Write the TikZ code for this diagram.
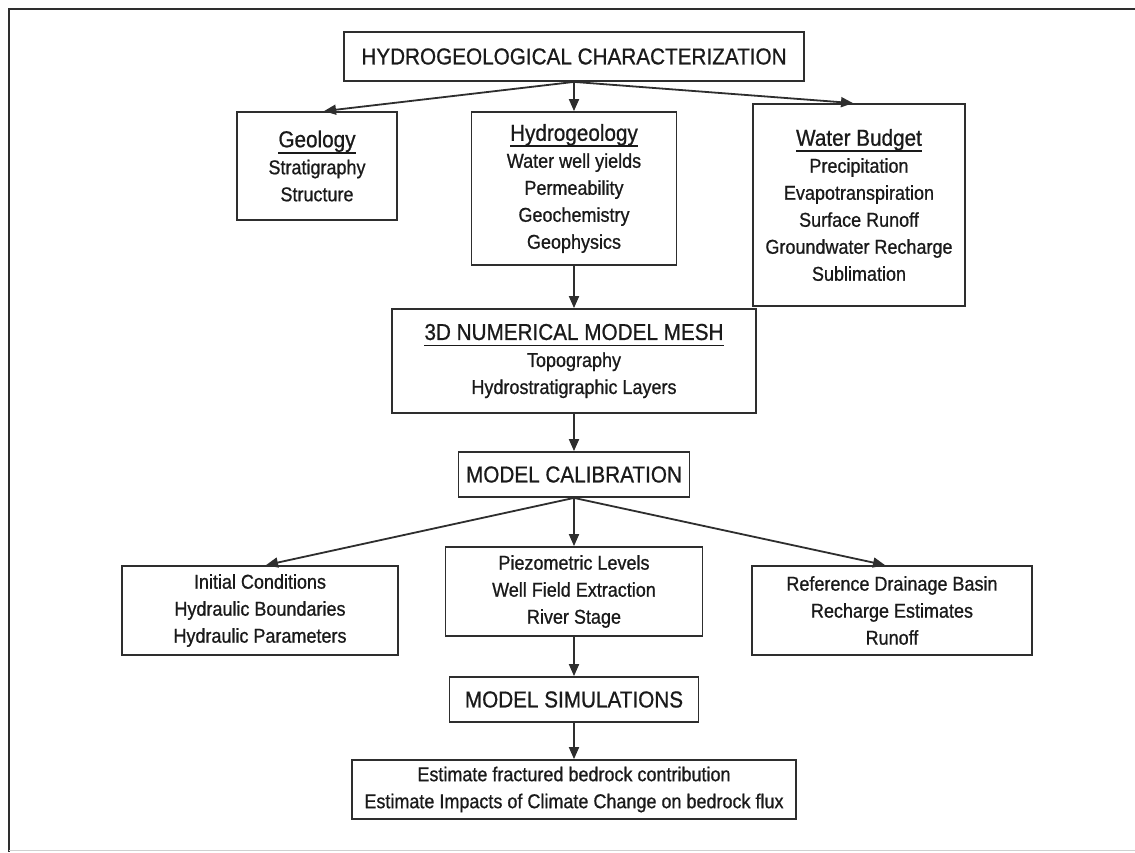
\documentclass[tikz,border=0pt]{standalone}
\usepackage{fontspec}
\setmainfont{Liberation Sans}[FakeStretch=0.9,FakeBold=0.8]
\usetikzlibrary{arrows.meta}
\definecolor{ink}{HTML}{2E2E2E}
\definecolor{txt}{HTML}{1A1A1A}
\definecolor{faint}{HTML}{D0D0D0}
\newsavebox{\myulbox}
\newcommand{\myul}[1]{\sbox{\myulbox}{#1}\rlap{\rule[-6.5pt]{\wd\myulbox}{1.8pt}}\usebox{\myulbox}}
\newcommand{\bodyfont}{\fontsize{20}{27}\selectfont}
\newcommand{\headfont}{\fontsize{23}{28}\selectfont}
\begin{document}
\begin{tikzpicture}[x=1pt,y=-1pt,
  box/.style={draw=ink,line width=1.8pt,align=center,inner sep=0pt,text=txt,font=\bodyfont},
  arr/.style={draw=ink,line width=1.8pt,-{Triangle[length=12pt,width=10pt]}}]
\useasboundingbox (0,0) rectangle (1135,852);
\fill[white] (0,0) rectangle (1135,852);
% frame
\draw[ink,line width=2pt] (1135,9) -- (9,9) -- (9,852);
\draw[faint,line width=1pt] (9,850) -- (1135,850);

% nodes
\node[box,minimum width=460pt,minimum height=49pt,font=\headfont] (title) at (574,56.5) {HYDROGEOLOGICAL CHARACTERIZATION};
\node[box,minimum width=160pt,minimum height=108pt] (geo) at (317,166) {\myul{\headfont Geology}\\Stratigraphy\\Structure};
\node[box,minimum width=205pt,minimum height=153pt] (hydro) at (574,188.5) {\myul{\headfont Hydrogeology}\\Water well yields\\Permeability\\Geochemistry\\Geophysics};
\node[box,minimum width=212pt,minimum height=202pt] (water) at (859,205) {\myul{\headfont Water Budget}\\Precipitation\\Evapotranspiration\\Surface Runoff\\Groundwater Recharge\\Sublimation};
\node[box,minimum width=364pt,minimum height=104pt] (mesh) at (574,361) {\myul{\headfont 3D NUMERICAL MODEL MESH}\\Topography\\Hydrostratigraphic Layers};
\node[box,minimum width=231pt,minimum height=45pt,font=\headfont] (calib) at (574,474.5) {MODEL CALIBRATION};
\node[box,minimum width=276pt,minimum height=89pt] (ic) at (260,610.5) {Initial Conditions\\Hydraulic Boundaries\\Hydraulic Parameters};
\node[box,minimum width=257pt,minimum height=89pt] (piezo) at (574,591.5) {Piezometric Levels\\Well Field Extraction\\River Stage};
\node[box,minimum width=280pt,minimum height=89pt] (ref) at (892,610.5) {Reference Drainage Basin\\Recharge Estimates\\Runoff};
\node[box,minimum width=249pt,minimum height=45pt,font=\headfont] (sim) at (574,699.5) {MODEL SIMULATIONS};
\node[box,minimum width=444pt,minimum height=59pt] (est) at (574,789.5) {Estimate fractured bedrock contribution\\Estimate Impacts of Climate Change on bedrock flux};

% connectors
\draw[arr] (title.south) -- ([xshift=7pt]geo.north);
\draw[arr] (title.south) -- (hydro.north);
\draw[arr] (title.south) -- ([xshift=-6pt]water.north);
\draw[arr] (hydro.south) -- (mesh.north);
\draw[arr] (mesh.south) -- (calib.north);
\draw[arr] (calib.south) -- ([xshift=6pt]ic.north);
\draw[arr] (calib.south) -- (piezo.north);
\draw[arr] (calib.south) -- ([xshift=-7pt]ref.north);
\draw[arr] (piezo.south) -- (sim.north);
\draw[arr] (sim.south) -- (est.north);
\end{tikzpicture}
\end{document}
